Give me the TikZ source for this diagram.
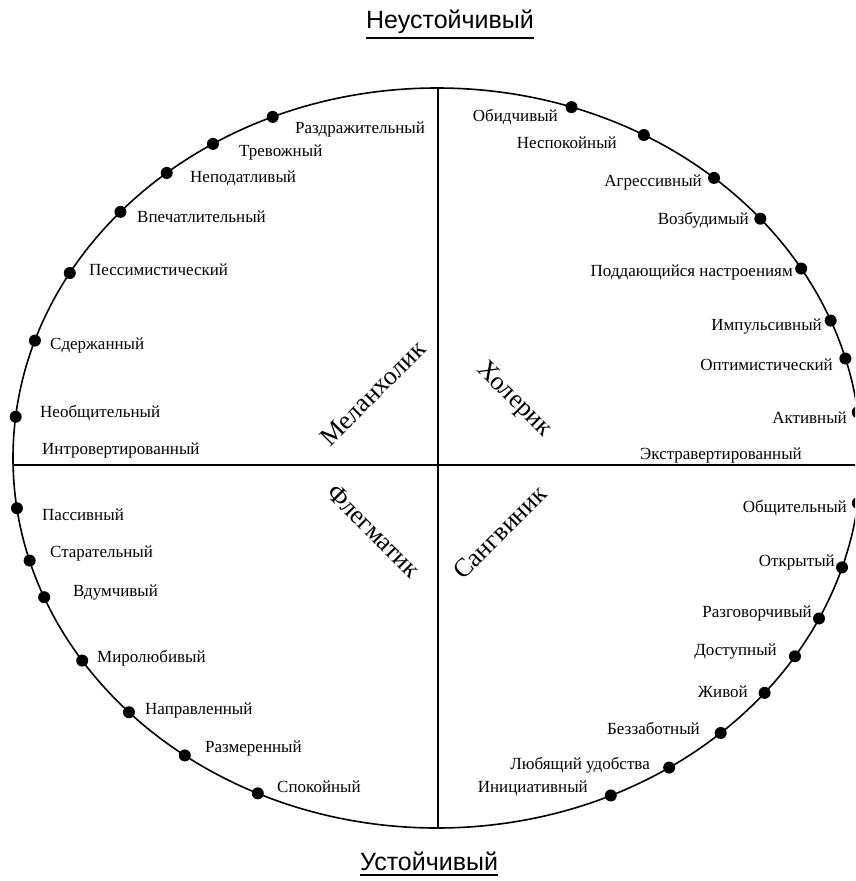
\documentclass[tikz,border=0pt]{standalone}
\usepackage{fontspec}
\setmainfont{Liberation Serif}
\newfontfamily\polefont{Liberation Sans}
\usetikzlibrary{positioning}

\tikzset{
  trait/.style={font=\fontsize{17}{19}\selectfont, inner sep=0pt},
  temper/.style={font=\fontsize{26}{30}\selectfont, inner sep=0pt},
  pole/.style={font=\polefont\fontsize{25}{29}\selectfont, inner sep=0pt},
  trdot/.style={circle, fill=black, inner sep=0pt, minimum size=12pt}
}

\begin{document}
\begin{tikzpicture}[x=1pt,y=-1pt]
\useasboundingbox (0,0) rectangle (855,881);
\clip (0,0) rectangle (855,881);
\coordinate (c) at (437,458);
\draw [line width=1.6pt] (c) ellipse [x radius=424, y radius=370];
% axes
\coordinate (top) at (438,88);
\coordinate (bot) at (438,828);
\coordinate (lft) at (13,465);
\coordinate (rgt) at (861,465);
\draw [line width=1.1pt] (top) -- (bot) (lft) -- (rgt);
% poles
\node[pole] (neust) at (450,22) {Неустойчивый};
\node[pole] (ust) at (429,861) {Устойчивый};
\draw [line width=1.8pt] ([yshift=-4pt]neust.south west) -- ([yshift=-4pt]neust.south east);
\draw [line width=1.8pt] ([yshift=-4pt]ust.south west) -- ([yshift=-4pt]ust.south east);
% temperaments
\node[temper, rotate=45] (mel) at (373,393) {Меланхолик};
\node[temper, rotate=-45] (hol) at (514,400) {Холерик};
\node[temper, rotate=-45] (fle) at (374,531) {Флегматик};
\node[temper, rotate=45] (san) at (500,532) {Сангвиник};
% dots, upper left to lower left
\path (c) ++(-112.8:424 and 370) node[trdot] (l1) {};
\path (c) ++(-121.9:424 and 370) node[trdot] (l2) {};
\path (c) ++(-129.6:424 and 370) node[trdot] (l3) {};
\path (c) ++(-138.3:424 and 370) node[trdot] (l4) {};
\path (c) ++(-150:424 and 370) node[trdot] (l5) {};
\path (c) ++(-161.5:424 and 370) node[trdot] (l6) {};
\path (c) ++(-173.6:424 and 370) node[trdot] (l7) {};
\path (c) ++(172.2:424 and 370) node[trdot] (l8) {};
\path (c) ++(163.9:424 and 370) node[trdot] (l9) {};
\path (c) ++(157.9:424 and 370) node[trdot] (l10) {};
\path (c) ++(146.8:424 and 370) node[trdot] (l11) {};
\path (c) ++(136.6:424 and 370) node[trdot] (l12) {};
\path (c) ++(126.5:424 and 370) node[trdot] (l13) {};
\path (c) ++(115.0:424 and 370) node[trdot] (l14) {};
% dots, upper right to lower right
\path (c) ++(-71.5:424 and 370) node[trdot] (r1) {};
\path (c) ++(-60.8:424 and 370) node[trdot] (r2) {};
\path (c) ++(-49.2:424 and 370) node[trdot] (r3) {};
\path (c) ++(-40.3:424 and 370) node[trdot] (r4) {};
\path (c) ++(-30.8:424 and 370) node[trdot] (r5) {};
\path (c) ++(-21.8:424 and 370) node[trdot] (r6) {};
\path (c) ++(-15.6:424 and 370) node[trdot] (r7) {};
\path (c) ++(-7.1:424 and 370) node[trdot] (r8) {};
\path (c) ++(7.0:424 and 370) node[trdot] (r9) {};
\path (c) ++(17.2:424 and 370) node[trdot] (r10) {};
\path (c) ++(25.7:424 and 370) node[trdot] (r11) {};
\path (c) ++(32.4:424 and 370) node[trdot] (r12) {};
\path (c) ++(39.4:424 and 370) node[trdot] (r13) {};
\path (c) ++(48.0:424 and 370) node[trdot] (r14) {};
\path (c) ++(56.8:424 and 370) node[trdot] (r15) {};
\path (c) ++(65.8:424 and 370) node[trdot] (r16) {};
% left traits
\node[trait, anchor=west] (razdr) at (295,129) {Раздражительный};
\node[trait, anchor=west] (trev) at (239,152) {Тревожный};
\node[trait, anchor=west] (nepod) at (190,178) {Неподатливый};
\node[trait, anchor=west] (vpech) at (137,217) {Впечатлительный};
\node[trait, anchor=west] (pess) at (89,270) {Пессимистический};
\node[trait, anchor=west] (sderzh) at (50,345) {Сдержанный};
\node[trait, anchor=west] (neobshch) at (40,413) {Необщительный};
\node[trait, anchor=west] (intro) at (42,450) {Интровертированный};
\node[trait, anchor=west] (pass) at (42,515) {Пассивный};
\node[trait, anchor=west] (star) at (50,553) {Старательный};
\node[trait, anchor=west] (vdum) at (73,593) {Вдумчивый};
\node[trait, anchor=west] (mirol) at (97,658) {Миролюбивый};
\node[trait, anchor=west] (napr) at (145,710) {Направленный};
\node[trait, anchor=west] (razm) at (205,748) {Размеренный};
\node[trait, anchor=west] (spok) at (277,787) {Спокойный};
% right traits
\node[trait, anchor=east] (obid) at (558,117) {Обидчивый};
\node[trait, anchor=east] (nespok) at (617,143) {Неспокойный};
\node[trait, anchor=east] (agr) at (702,182) {Агрессивный};
\node[trait, anchor=east] (vozb) at (749,220) {Возбудимый};
\node[trait, anchor=east] (podd) at (793,272) {Поддающийся настроениям};
\node[trait, anchor=east] (imp) at (822,327) {Импульсивный};
\node[trait, anchor=east] (opt) at (833,365) {Оптимистический};
\node[trait, anchor=east] (akt) at (847,418) {Активный};
\node[trait, anchor=east] (ekstr) at (802,455) {Экстравертированный};
\node[trait, anchor=east] (obshch) at (847,508) {Общительный};
\node[trait, anchor=east] (otkr) at (835,562) {Открытый};
\node[trait, anchor=east] (razg) at (812,613) {Разговорчивый};
\node[trait, anchor=east] (dost) at (777,652) {Доступный};
\node[trait, anchor=east] (zhiv) at (748,692) {Живой};
\node[trait, anchor=east] (bezz) at (700,728) {Беззаботный};
\node[trait, anchor=east] (lyub) at (650,765) {Любящий удобства};
\node[trait, anchor=east] (inic) at (588,788) {Инициативный};
\end{tikzpicture}
\end{document}
